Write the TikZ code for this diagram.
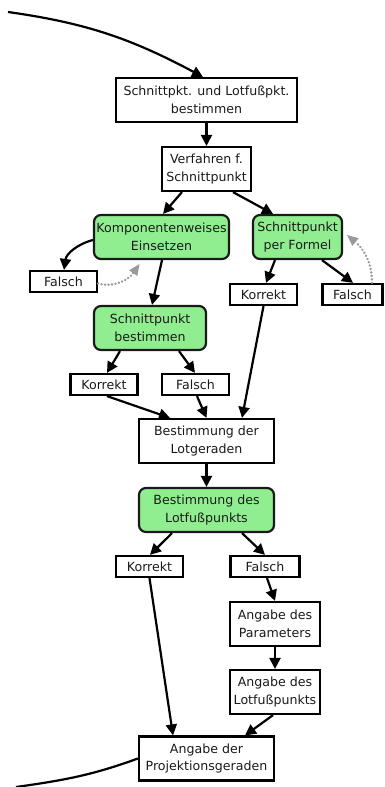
\documentclass[tikz,border=0pt]{standalone}
\usepackage{fontspec}
\setmainfont{DejaVu Sans}
\usetikzlibrary{arrows.meta}
\definecolor{boxgreen}{HTML}{90EE90}
\definecolor{inkdark}{HTML}{1A1A1A}
\definecolor{retry}{HTML}{9A9A9A}
\begin{document}
\begin{tikzpicture}[x=1pt,y=1pt,
  every node/.style={font=\fontsize{12.6}{17.5}\selectfont, text=inkdark, align=center, inner sep=0pt},
  plain/.style={draw=black, line width=2.2pt, fill=white},
  task/.style={draw=inkdark, line width=2.2pt, fill=boxgreen, rounded corners=7pt},
  big/.style={minimum width=#1, minimum height=44pt},
  small/.style={minimum width=#1, minimum height=21pt},
  flow/.style={line width=2.2pt, -{Triangle[length=11pt,width=11pt]}},
  back/.style={line width=2.6pt, retry, line cap=round, dash pattern=on 0.1pt off 3.4pt,
    -{Triangle[length=11pt,width=10pt,fill=retry,line width=0pt]}}
]
\useasboundingbox (0,0) rectangle (385,-787);

% boxes
\node[plain,big=181pt] (n1) at (206.5,-100) {Schnittpkt. und Lotfußpkt.\\bestimmen};
\node[plain,big=89pt]  (n2) at (206.5,-169) {Verfahren f.\\Schnittpunkt};
\node[task,big=135pt]  (k1) at (161.5,-237) {Komponentenweises\\Einsetzen};
\node[task,big=89pt]   (f1) at (297.5,-237) {Schnittpunkt\\per Formel};
\node[plain,small=67pt] (fa1) at (63.5,-281.5) {Falsch};
\node[plain,small=67pt] (ko2) at (263.5,-294.5) {Korrekt};
\node[plain,small=60pt] (fa2) at (352.5,-294.5) {Falsch};
\node[task,big=112pt]  (s1) at (150,-328) {Schnittpunkt\\bestimmen};
\node[plain,small=67pt] (ko1) at (104,-384.5) {Korrekt};
\node[plain,small=67pt] (fa3) at (195.5,-384.5) {Falsch};
\node[plain,big=135pt] (lg) at (206.5,-441) {Bestimmung der\\Lotgeraden};
\node[task,big=135pt]  (lf) at (206.5,-510) {Bestimmung des\\Lotfußpunkts};
\node[plain,small=67pt] (ko3) at (149.5,-566.5) {Korrekt};
\node[plain,small=69pt] (fa4) at (265,-566.5) {Falsch};
\node[plain,big=90pt]  (ap) at (275,-624) {Angabe des\\Parameters};
\node[plain,big=90pt]  (al) at (275,-692) {Angabe des\\Lotfußpunkts};
\node[plain,big=135pt] (pg) at (206.5,-758.5) {Angabe der\\Projektionsgeraden};

% incoming and outgoing arcs
\coordinate (arcin) at (8,-12);
\coordinate (arcout) at (16,-787);
\draw[flow] (arcin) to[out=-8,in=152] ([xshift=-3.5pt]n1.north);
\draw[line width=2.2pt] (pg.west) to[out=200,in=8] (arcout);

% connectors
\draw[flow] (n1) -- (n2);
\draw[flow] ([xshift=-24.5pt]n2.south) -- ([xshift=1.5pt]k1.north);
\draw[flow] ([xshift=26.5pt]n2.south) -- ([xshift=-24.5pt]f1.north);
\draw[flow] ([yshift=-3pt]k1.west) to[out=195,in=82] ([xshift=0.5pt]fa1.north);
\draw[back] ([yshift=-2pt]fa1.east) to[out=-15,in=235] ([xshift=-22pt,yshift=-4pt]k1.south);
\draw[flow] ([xshift=0.5pt]k1.south) -- ([xshift=2pt]s1.north);
\draw[flow] ([xshift=-22.5pt]f1.south) -- ([xshift=2.5pt]ko2.north);
\draw[flow] ([xshift=24.5pt]f1.south) -- ([xshift=0.5pt]fa2.north);
\draw[back] ([xshift=19.5pt]fa2.north) to[out=90,in=-40] ([xshift=4pt,yshift=2pt]f1.east);
\draw[flow] ([xshift=-30pt]s1.south) -- ([xshift=3pt]ko1.north);
\draw[flow] ([xshift=29pt]s1.south) -- ([xshift=-0.5pt]fa3.north);
\draw[flow] (ko2.south) -- ([xshift=35.5pt]lg.north);
\draw[flow] ([xshift=3pt]ko1.south) -- ([xshift=-36.5pt]lg.north);
\draw[flow] ([xshift=1.5pt]fa3.south) -- (lg.north);
\draw[flow] (lg) -- (lf);
\draw[flow] ([xshift=-34.5pt]lf.south) -- ([xshift=0.5pt]ko3.north);
\draw[flow] ([xshift=35.5pt]lf.south) -- (fa4.north);
\draw[flow] (ko3.south) -- ([xshift=-33.5pt]pg.north);
\draw[flow] ([xshift=2pt]fa4.south) -- (ap.north);
\draw[flow] (ap.south) -- (al.north);
\draw[flow] ([xshift=-2pt]al.south) -- ([xshift=38.5pt]pg.north);
\end{tikzpicture}
\end{document}
